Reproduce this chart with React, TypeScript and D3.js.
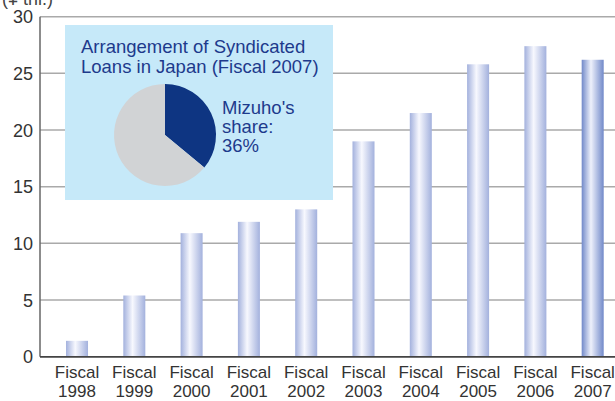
import React from "react";
import * as d3 from "d3";

const years = ["1998", "1999", "2000", "2001", "2002", "2003", "2004", "2005", "2006", "2007"];
const values = [1.4, 5.4, 10.9, 11.9, 13.0, 19.0, 21.5, 25.8, 27.4, 26.2];
const yTicks = [0, 5, 10, 15, 20, 25, 30];
const pieData = [
  { label: "Mizuho", value: 36 },
  { label: "Others", value: 64 },
];
const unitLabel = "(¥ tril.)";
const insetTitle = ["Arrangement of Syndicated", "Loans in Japan (Fiscal 2007)"];
const shareText = ["Mizuho's", "share:", "36%"];

const W = 615;
const H = 401;
const FONT = "'Liberation Sans', Arial, Helvetica, sans-serif";

export default function App() {
  const x = d3
    .scaleBand<string>()
    .domain(years)
    .range([40, 629.7])
    .paddingInner(0.616)
    .paddingOuter(0.454);
  const y = d3.scaleLinear().domain([0, 30]).range([356.7, 16.7]);

  const pie = d3.pie<{ label: string; value: number }>().value((d) => d.value).sort(null);
  const arcs = pie(pieData);
  const arc = d3.arc<d3.PieArcDatum<{ label: string; value: number }>>().innerRadius(0).outerRadius(51);
  const pieColors = ["#0e3582", "#d1d3d5"];

  return (
    <svg
      width={W}
      height={H}
      style={{ position: "absolute", left: 0, top: 0, display: "block" }}
      fontFamily={FONT}
    >
      <defs>
        <linearGradient id="barGrad" x1="0" x2="1" y1="0" y2="0">
          <stop offset="0%" stopColor="#a3b1dd" />
          <stop offset="42%" stopColor="#f7f8fe" />
          <stop offset="100%" stopColor="#a3b1dd" />
        </linearGradient>
        <linearGradient id="barGradDark" x1="0" x2="1" y1="0" y2="0">
          <stop offset="0%" stopColor="#7189c9" />
          <stop offset="42%" stopColor="#eef1fb" />
          <stop offset="100%" stopColor="#7189c9" />
        </linearGradient>
      </defs>
      <rect x={0} y={0} width={W} height={H} fill="#ffffff" />

      {/* unit label */}
      <text x={2} y={5} fontSize={18} fill="#444">
        {unitLabel}
      </text>

      {/* gridlines */}
      {yTicks.map((t) => (
        <line
          key={t}
          x1={40}
          x2={W}
          y1={y(t)}
          y2={y(t)}
          stroke={t === 0 ? "#444" : "#aaaaaa"}
          strokeWidth={1.5}
        />
      ))}
      {/* left axis */}
      <line x1={40} x2={40} y1={y(30)} y2={y(0)} stroke="#666" strokeWidth={1.5} />

      {/* y tick labels */}
      {yTicks.map((t) => (
        <text key={t} x={33} y={y(t) + 6.5} fontSize={18} fill="#333" textAnchor="end">
          {t}
        </text>
      ))}

      {/* bars */}
      {years.map((yr, i) => (
        <rect
          key={yr}
          x={x(yr)}
          y={y(values[i])}
          width={x.bandwidth()}
          height={y(0) - y(values[i])}
          fill={i === years.length - 1 ? "url(#barGradDark)" : "url(#barGrad)"}
        />
      ))}
      {/* redraw baseline over bars */}
      <line x1={40} x2={W} y1={y(0)} y2={y(0)} stroke="#444" strokeWidth={1.5} />

      {/* x labels */}
      {years.map((yr) => {
        const cx = (x(yr) as number) + x.bandwidth() / 2;
        return (
          <g key={yr}>
            <text x={cx} y={378} fontSize={17} fill="#333" textAnchor="middle">
              Fiscal
            </text>
            <text x={cx} y={396.5} fontSize={17} fill="#333" textAnchor="middle">
              {yr}
            </text>
          </g>
        );
      })}

      {/* inset */}
      <rect x={65} y={25} width={268} height={175} fill="#c6e9f9" />
      {insetTitle.map((l, i) => (
        <text key={i} x={81} y={53 + i * 20} fontSize={18.5} fill="#1d3a8c">
          {l}
        </text>
      ))}
      <g transform="translate(165,135)">
        {arcs.map((a, i) => (
          <path key={i} d={arc(a) as string} fill={pieColors[i]} />
        ))}
      </g>
      {shareText.map((l, i) => (
        <text key={i} x={222} y={114 + i * 19} fontSize={18.5} fill="#1d3a8c">
          {l}
        </text>
      ))}
    </svg>
  );
}
